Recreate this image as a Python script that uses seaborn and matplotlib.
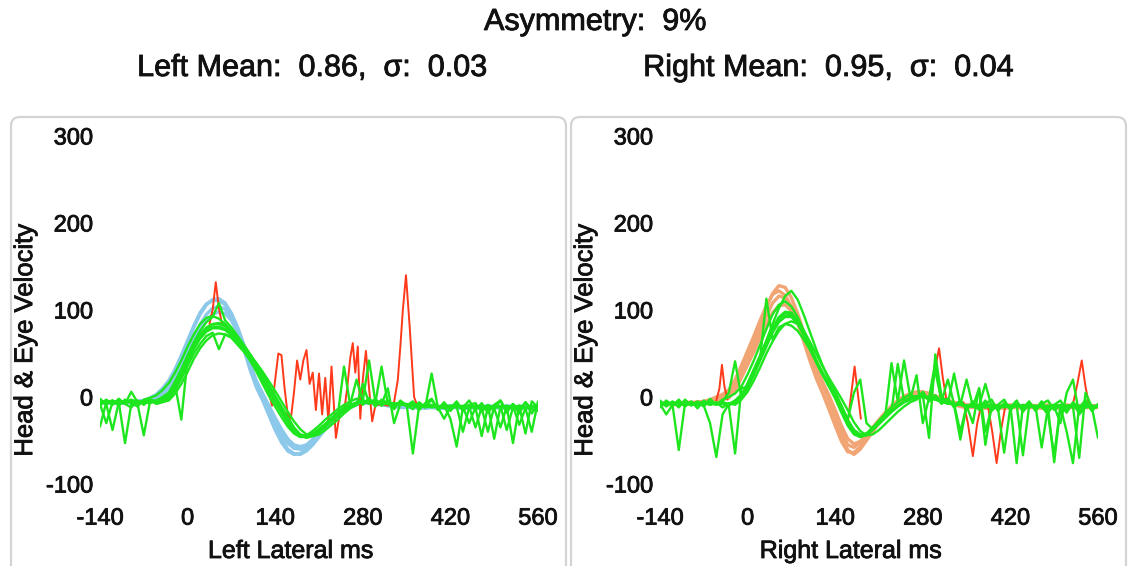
import numpy as np
import pandas as pd
import matplotlib
matplotlib.use("Agg")
import matplotlib.pyplot as plt
import matplotlib.patheffects as pe
import seaborn as sns
from matplotlib.patches import FancyBboxPatch
from matplotlib.transforms import IdentityTransform

# ---- data (10 ms samples from -140 to 560) ----
time_ms = list(range(-140, 561, 10))

x_ticks = [-140, 0, 140, 280, 420, 560]
y_ticks = [-100, 0, 100, 200, 300]

title_top = "Asymmetry:  9%"
title_left = "Left Mean:  0.86,  \u03c3:  0.03"
title_right = "Right Mean:  0.95,  \u03c3:  0.04"

# left side: head velocity (blue)
left_head_1 = [-5, -6, -6, -7, -6, -5, -5, -4, -2, 2,
               8, 17, 30, 46, 63, 80, 95, 106, 112, 113,
               108, 96, 78, 55, 31, 11, -4, -21, -38, -52,
               -62, -66, -65, -59, -51, -42, -33, -25, -18, -13,
               -9, -7, -6, -7, -8, -9, -10, -11, -11, -12,
               -12, -12, -13, -12, -12, -13, -12, -12, -13, -12,
               -12, -13, -12, -12, -13, -12, -12, -13, -12, -12,
               -12]
left_head_2 = [-6, -7, -7, -6, -6, -6, -6, -5, -4, -1,
               4, 11, 22, 36, 52, 68, 83, 95, 102, 104,
               101, 91, 75, 55, 34, 15, 1, -14, -29, -42,
               -53, -59, -60, -56, -49, -41, -33, -26, -20, -15,
               -11, -8, -7, -6, -7, -8, -9, -10, -10, -11,
               -11, -11, -12, -11, -11, -12, -11, -11, -12, -11,
               -11, -12, -11, -11, -12, -11, -11, -12, -11, -11,
               -11]
left_head_3 = [-7, -7, -6, -7, -7, -6, -6, -6, -5, -3,
               1, 7, 17, 30, 45, 61, 76, 88, 95, 98,
               96, 88, 74, 56, 36, 18, 4, -10, -24, -37,
               -48, -55, -57, -55, -49, -42, -35, -28, -21, -16,
               -12, -9, -7, -6, -6, -7, -8, -9, -10, -10,
               -10, -11, -11, -10, -11, -11, -10, -11, -11, -10,
               -11, -11, -10, -11, -11, -10, -11, -11, -10, -11,
               -11]
left_head_4 = [-6, -5, -6, -6, -7, -6, -5, -4, -1, 3,
               10, 19, 32, 48, 65, 82, 97, 107, 111, 111,
               106, 96, 80, 60, 38, 18, 2, -15, -32, -48,
               -60, -65, -66, -62, -55, -46, -37, -29, -22, -16,
               -11, -8, -7, -7, -8, -9, -10, -11, -12, -12,
               -12, -13, -12, -12, -13, -13, -12, -12, -13, -13,
               -12, -13, -13, -12, -12, -13, -12, -12, -13, -13,
               -12]

# left side: eye velocity (green)
left_eye_1 = [-6, -4, -7, -5, -6, -3, -6, -5, -4, -6,
              -3, 1, 12, 26, 42, 57, 68, 76, 80, 81,
              78, 72, 64, 55, 45, 34, 22, 9, -3, -15,
              -27, -38, -45, -46, -43, -38, -32, -26, -20, -14,
              -10, -7, -6, -5, -6, -7, -6, -8, -7, -9,
              -8, -10, -9, -11, -10, -12, -10, -11, -13, -10,
              -12, -11, -13, -10, -12, -11, -13, -10, -12, -11,
              -10]
left_eye_2 = [-4, -7, -5, -8, -4, -6, -5, -7, -3, -5,
              -1, 4, 16, 31, 48, 63, 76, 86, 92, 108,
              88, 80, 70, 60, 49, 38, 26, 13, 1, -12,
              -24, -36, -44, -47, -45, -40, -34, -27, -21, 35,
              -10, -6, -4, 42, -5, -6, -8, -7, -9, -8,
              -10, -9, -11, -10, -12, -10, -25, -57, -12, -10,
              -11, -13, -10, -12, -11, -13, -12, -10, -13, -11,
              -12]
left_eye_3 = [-7, -5, -8, -6, -53, -8, -5, -6, -7, -4,
              -5, -2, 8, 21, 36, 50, 61, 70, 74, 55,
              72, 68, 60, 52, 42, 31, 19, 6, -6, -18,
              -30, -40, -46, -46, -42, -37, -31, -25, -19, -13,
              -9, -7, -6, -6, -7, 35, -8, -7, -9, -8,
              -65, -10, -11, 27, -12, -9, -11, -12, -10, -13,
              -11, -12, -10, -13, -35, -11, -53, -10, -12, -11,
              -11]
left_eye_4 = [-5, -8, -38, -6, -7, -5, -8, -44, -5, -7,
              -4, 0, 10, 24, 40, 55, 67, 75, 79, 79,
              77, 71, 63, 54, 44, 33, 21, 8, -4, -16,
              -28, -38, -44, -45, -42, -37, -31, -24, -18, -12,
              -8, 20, -5, -6, -7, -6, -8, -9, -7, -10,
              -9, -11, -10, -12, -11, -10, -12, -11, -40, -12,
              -10, -13, -40, -11, -12, -10, -13, -11, -42, -5,
              -12]
left_eye_5 = [-34, -6, -4, -7, -5, -6, -7, -4, -6, -5,
              -2, 3, 14, -26, 44, 59, 70, 78, 83, 84,
              81, 75, 67, 57, 47, 36, 24, 11, -1, -13,
              -25, -36, -43, -45, -44, -39, -33, -27, -21, -15,
              -11, -8, -6, -7, -5, -8, 10, -30, -8, -9,
              -10, -9, -12, -10, -11, -13, -10, -12, -11, -30,
              -12, -45, -11, -13, -10, -38, -12, -11, -13, -40,
              -5]
left_eye_6 = [-8, -30, -6, -5, -8, 6, -6, -7, -5, -4,
              0, 5, 18, 32, 47, 61, 72, 80, 84, 85,
              82, 76, 68, 59, 49, 38, 26, 13, 1, -11,
              -23, -35, -43, -46, -44, -40, -34, -28, -22, -16,
              -12, -9, 15, -7, -6, -8, -7, -9, -8, -10,
              -9, -11, -10, -9, -12, -25, -11, -10, -12, -11,
              -35, -12, -10, -48, -11, -12, -10, -32, -13, -11,
              -12]
left_eye_7 = [-10, -3, -9, -2, -8, -12, -4, -9, -3, -8,
              -6, -4, 4, 15, 29, 44, 56, 65, 71, 73,
              72, 69, 63, 56, 48, 39, 29, 18, 7, -5,
              -17, -28, -37, -43, -45, -43, -38, -32, -26, -19,
              -13, -9, -3, -8, -2, -10, -4, -12, -5, -9,
              -14, -6, -12, -3, -15, -8, -13, -5, -16, -9,
              -7, -17, -9, -14, -4, -18, -8, -15, -6, -19,
              -8]
left_eye_8 = [-2, -9, -4, -10, -3, -7, -11, -3, -1, 2,
              8, 16, 28, 42, 58, 72, 84, 91, 93, 90,
              84, 76, 66, 54, 42, 29, 15, 1, -11, -23,
              -34, -42, -46, -44, -39, -33, -26, -20, -14, -9,
              -5, -2, -9, -1, -11, -3, -7, -14, -4, -10,
              -5, -15, -7, -2, -14, -6, -16, -8, -12, -4,
              -15, -7, -18, -9, -4, -16, -8, -19, -6, -14,
              -16]

# left side: flagged eye segments (red), own time stamps
left_red_1_t = [35, 40, 45, 50, 55]
left_red_1_v = [84, 100, 132, 102, 84]
left_red_2_t = [130, 135, 140, 145, 150, 155, 160, 165, 170, 175, 180, 185,
                190, 195, 200, 205, 210, 215, 220, 225, 230, 237, 244]
left_red_2_v = [5, -10, 20, 50, 48, 10, -20, -25, 5, 42, 20, 42,
                54, 15, 28, -15, 27, -20, 22, -28, 35, -47, -15]
left_red_3_t = [250, 255, 260, 264, 268, 272, 276, 280, 285, 290, 295, 300,
                310, 320, 330, 336, 340, 344, 349, 355, 362, 368]
left_red_3_v = [-18, 10, 45, 62, 28, 58, -25, 20, 53, 10, -28, -10,
                -8, -10, -6, 20, 58, 100, 140, 80, 0, -12]

# right side: head velocity (orange)
right_head_1 = [-8, -9, -8, -8, -7, -7, -7, -6, -5, -3,
                0, 4, 16, 32, 49, 66, 84, 102, 119, 128,
                126, 114, 96, 74, 52, 32, 14, -4, -24, -45,
                -61, -66, -60, -50, -40, -30, -21, -13, -6, -1,
                3, 5, 5, 4, 1, -2, -5, -8, -10, -11,
                -11, -12, -11, -11, -12, -12, -11, -12, -12, -11,
                -12, -12, -11, -12, -12, -11, -12, -11, -12, -12,
                -12]
right_head_2 = [-8, -8, -8, -7, -7, -7, -6, -6, -6, -4,
                -2, 1, 12, 27, 43, 59, 76, 93, 108, 116,
                114, 104, 88, 68, 48, 30, 14, -2, -20, -40,
                -55, -58, -52, -44, -35, -26, -18, -11, -5, -1,
                2, 4, 4, 3, 1, -2, -5, -7, -9, -10,
                -10, -11, -11, -10, -11, -11, -10, -11, -11, -10,
                -11, -11, -10, -11, -11, -10, -11, -11, -10, -11,
                -11]
right_head_3 = [-7, -7, -8, -7, -6, -6, -6, -5, -5, -4,
                -3, -1, 8, 22, 37, 52, 68, 84, 97, 105,
                106, 99, 86, 68, 50, 33, 17, 2, -15, -33,
                -48, -54, -51, -44, -36, -28, -20, -13, -7, -2,
                1, 3, 4, 3, 1, -1, -4, -6, -8, -9,
                -9, -10, -10, -9, -10, -10, -9, -10, -10, -9,
                -10, -10, -9, -10, -10, -9, -10, -10, -9, -10,
                -10]
right_head_4 = [-9, -8, -9, -8, -8, -7, -6, -5, -3, 0,
                3, 8, 20, 36, 53, 70, 88, 105, 118, 122,
                117, 104, 85, 63, 41, 21, 4, -14, -33, -51,
                -63, -64, -57, -47, -37, -27, -18, -10, -4, 1,
                4, 6, 6, 4, 1, -3, -6, -9, -11, -12,
                -12, -12, -13, -12, -12, -13, -12, -12, -13, -12,
                -12, -13, -12, -12, -13, -12, -12, -13, -12, -12,
                -12]

# right side: eye velocity (green)
right_eye_1 = [-8, -6, -9, -7, -8, -6, -9, -7, -6, -8,
               -6, -8, -5, 2, 14, 30, 46, 62, 78, 90,
               96, 95, 86, 72, 56, 40, 26, 13, 2, -12,
               -28, -40, -45, -43, -37, -30, -23, -16, -10, -5,
               -2, 0, 0, -1, -3, -5, -7, -8, -9, -10,
               -10, -11, -9, -11, -10, -12, -10, -11, -9, -11,
               -10, -12, -10, -11, -9, -11, -10, -12, -10, -11,
               -10]
right_eye_2 = [-7, -9, -6, -8, -7, -9, -6, -8, -7, -9,
               -7, -9, -6, 0, 12, 28, 46, 65, 84, 102,
               116, 122, 112, 94, 74, 54, 36, 20, 6, -10,
               -26, -38, -44, -42, -36, -29, -22, 39, -5, 42,
               0, 1, 2, -47, 49, 0, -6, -9, -49, -10,
               -11, -10, -12, -9, -11, -10, -12, -9, -11, -10,
               -12, -9, -11, -10, -12, -10, -9, -11, -12, -10,
               -11]
right_eye_3 = [-8, -7, -9, -8, -9, -7, -8, -10, -30, -69,
               -20, -8, -4, 3, 14, 28, 44, 113, 66, 80,
               84, 82, 76, 66, 54, 40, 27, 14, 2, -12,
               -27, -38, -43, -42, -36, -30, -23, -16, 38, -4,
               -1, 1, 0, -2, 30, -5, -8, 27, -9, -10,
               -11, 10, -55, -10, -12, -64, -11, -10, -12, -9,
               -11, -10, -12, -9, -11, -10, -12, -11, -9, -11,
               -10]
right_eye_4 = [-9, -7, -8, -6, -9, -8, -7, -9, -6, -8,
               -5, 5, 41, 0, 16, 32, 48, 64, 80, 92,
               98, 97, 88, 74, 58, 42, 28, 15, 3, -11,
               -27, -39, -44, -43, -37, -31, -24, -17, -11, -6,
               -3, -1, 0, -1, -3, -5, -7, -8, -9, -10,
               -30, 10, -40, -12, -11, -9, -10, -76, -10, -12,
               -10, -58, -12, -75, -11, -40, -76, -10, -12, -11,
               -47]
right_eye_5 = [-7, -8, -6, -9, -7, -8, -6, -7, -9, -7,
               -8, -10, -65, 10, 12, 27, 43, 59, 75, 87,
               93, 93, 85, 71, 55, 39, 25, 12, 1, -13,
               -29, -41, -46, -44, -38, -31, -24, -17, -11, -6,
               -3, 25, -30, -1, 40, -5, 20, -8, -40, -10,
               -11, -9, -12, -10, -11, -10, -12, -9, -67, -10,
               -12, -11, -20, -67, -10, -12, -11, -70, 5, -11,
               -10]
right_eye_6 = [-8, -20, -9, -61, -7, -8, -9, -6, -8, -7,
               -6, -9, -7, -1, 10, 25, 42, 58, 74, 86,
               92, 92, 84, 71, 56, 41, 27, 14, 3, -10,
               -26, 5, 20, -30, -37, -30, -23, -16, -10, -5,
               -2, 0, 1, 0, -3, -5, -7, -8, -9, 20,
               -11, -10, 15, -11, -12, -10, -11, -9, -12, -10,
               -11, -10, -12, -11, -30, 5, 20, -20, -11, -10,
               -12]
right_eye_7 = [-12, -4, -10, -3, -11, -5, -13, -4, -9, -6,
               -12, -7, -9, -3, 6, 19, 34, 50, 64, 76,
               84, 87, 84, 76, 63, 49, 35, 22, 10, -2,
               -15, -29, -39, -44, -43, -38, -31, -24, -17, -11,
               -6, -3, 5, -4, 2, -6, -2, -12, -6, -14,
               -5, -15, -8, -3, -16, -7, -12, -4, -17, -8,
               -14, -5, -18, -9, -4, -16, -7, -19, -6, -15,
               -8]
right_eye_8 = [-4, -11, -5, -12, -3, -10, -5, -11, -2, -9,
               -3, 0, 4, 12, 26, 42, 60, 78, 95, 106,
               110, 104, 92, 76, 58, 41, 26, 12, -2, -18,
               -33, -43, -46, -42, -35, -27, -19, -12, -6, -1,
               3, -2, 6, -5, 1, -8, -2, -10, -4, -13,
               -7, -14, -4, -16, -9, -3, -15, -8, -13, -5,
               -16, -8, -4, -15, -10, -18, -6, -13, -3, -16,
               -9]

# right side: flagged eye segments (red)
right_red_1_t = [-50, -45, -41, -37, -32]
right_red_1_v = [-4, 10, 37, 12, -3]
right_red_2_t = [160, 165, 171, 176, 181]
right_red_2_v = [-30, 0, 35, 5, -25]
right_red_3_t = [293, 299, 306, 312, 318]
right_red_3_v = [0, 30, 56, 22, -4]
right_red_4_t = [345, 352, 360, 367, 374]
right_red_4_v = [-6, -30, -68, -30, -8]
right_red_5_t = [384, 391, 398, 405, 412]
right_red_5_v = [-10, -40, -76, -38, -10]
right_red_6_t = [520, 527, 534, 540, 546]
right_red_6_v = [-8, 15, 42, 12, -10]

BLUE = "#8cc8ea"
ORANGE = "#f2a574"
GREEN = "#1ee61e"
RED = "#ff3a1a"
INK = "#111111"


def traces_frame(traces, name):
    parts = []
    for i, (t, v) in enumerate(traces):
        parts.append(pd.DataFrame({"t": t, "v": v, "trace": f"{name}{i}"}))
    return pd.concat(parts, ignore_index=True)


left_head = traces_frame([(time_ms, left_head_1), (time_ms, left_head_2),
                          (time_ms, left_head_3), (time_ms, left_head_4)], "lh")
left_eye = traces_frame([(time_ms, left_eye_1), (time_ms, left_eye_2), (time_ms, left_eye_3),
                         (time_ms, left_eye_4), (time_ms, left_eye_5), (time_ms, left_eye_6),
                         (time_ms, left_eye_7), (time_ms, left_eye_8)], "le")
left_red = traces_frame([(left_red_1_t, left_red_1_v), (left_red_2_t, left_red_2_v),
                         (left_red_3_t, left_red_3_v)], "lr")
right_head = traces_frame([(time_ms, right_head_1), (time_ms, right_head_2),
                           (time_ms, right_head_3), (time_ms, right_head_4)], "rh")
right_eye = traces_frame([(time_ms, right_eye_1), (time_ms, right_eye_2), (time_ms, right_eye_3),
                          (time_ms, right_eye_4), (time_ms, right_eye_5), (time_ms, right_eye_6),
                          (time_ms, right_eye_7), (time_ms, right_eye_8)], "re")
right_red = traces_frame([(right_red_1_t, right_red_1_v), (right_red_2_t, right_red_2_v),
                          (right_red_3_t, right_red_3_v), (right_red_4_t, right_red_4_v),
                          (right_red_5_t, right_red_5_v), (right_red_6_t, right_red_6_v)], "rr")

sns.set_style("white")
plt.rcParams["font.family"] = ["Liberation Sans", "DejaVu Sans"]
plt.rcParams["axes.unicode_minus"] = False

heavy = [pe.withStroke(linewidth=0.6, foreground=INK)]

W, H = 1128, 566
fig = plt.figure(figsize=(W / 100, H / 100), dpi=100)

# rounded panel frames (pixel coords), kept behind the axes
for x0 in (11, 571):
    fig.patches.append(FancyBboxPatch((x0, -20), 555, 449 + 20,
                                      boxstyle="round,pad=0,rounding_size=9",
                                      transform=IdentityTransform(),
                                      facecolor="none", edgecolor="#d4d4d4", lw=1.6,
                                      zorder=-5))

for txt, xp, yp in [(title_top, 595, 22), (title_left, 312, 68), (title_right, 828, 68)]:
    fig.text(xp / W, 1 - yp / H, txt, ha="center", va="center", fontsize=22,
             color=INK, path_effects=heavy)


def draw_panel(left_px, head, eye, red, head_color, xlabel):
    ax = fig.add_axes([left_px / W, (H - 484) / H, 438 / W, 348 / H])
    ax.patch.set_alpha(0)
    sns.lineplot(data=head, x="t", y="v", units="trace", estimator=None, sort=False,
                 color=head_color, lw=2.4, ax=ax, legend=False, zorder=2)
    sns.lineplot(data=red, x="t", y="v", units="trace", estimator=None, sort=False,
                 color=RED, lw=1.4, ax=ax, legend=False, zorder=3)
    sns.lineplot(data=eye, x="t", y="v", units="trace", estimator=None, sort=False,
                 color=GREEN, lw=1.7, ax=ax, legend=False, zorder=4)
    ax.set_xlim(-140, 560)
    ax.set_ylim(-100, 300)
    ax.set_xticks(x_ticks)
    ax.set_xticklabels([str(v) for v in x_ticks])
    ax.set_yticks(y_ticks)
    ax.set_yticklabels([str(v) for v in y_ticks])
    ax.tick_params(axis="x", length=0, pad=17, labelsize=17, labelcolor=INK)
    ax.tick_params(axis="y", length=0, pad=5, labelsize=17, labelcolor=INK)
    for lab in ax.get_xticklabels() + ax.get_yticklabels():
        lab.set_path_effects(heavy)
    for s in ax.spines.values():
        s.set_visible(False)
    ax.set_xlabel(xlabel, fontsize=18, color=INK, path_effects=heavy)
    ax.xaxis.label.set_verticalalignment("center")
    ax.xaxis.set_label_coords(0.435, -0.1925)
    ax.set_ylabel("Head & Eye Velocity", fontsize=18.5, color=INK, path_effects=heavy)
    ax.yaxis.label.set_verticalalignment("center")
    ax.yaxis.set_label_coords(-0.171, 0.414)
    return ax


draw_panel(100, left_head, left_eye, left_red, BLUE, "Left Lateral ms")
draw_panel(660, right_head, right_eye, right_red, ORANGE, "Right Lateral ms")

fig.savefig("out.png", dpi=100)
